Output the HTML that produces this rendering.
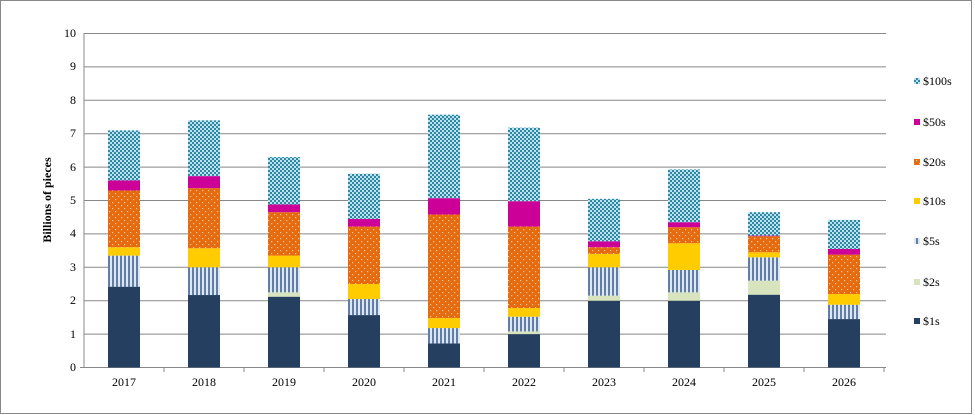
<!DOCTYPE html>
<html><head><style>body{margin:0;background:#fff}svg{display:block}text{font-family:"Liberation Serif",serif;font-size:12px;fill:#000}</style></head><body>
<svg width="975" height="415" viewBox="0 0 975 415">
<defs>
<pattern id="p100" width="4" height="4" patternUnits="userSpaceOnUse"><rect width="4" height="4" fill="#2a8aa6"/><rect width="2" height="2" fill="#bfe0ea"/><rect x="2" y="2" width="2" height="2" fill="#bfe0ea"/></pattern>
<pattern id="p20" width="6" height="6" patternUnits="userSpaceOnUse"><rect width="6" height="6" fill="#e56b0e"/><rect x="1" y="1" width="1.2" height="1.2" fill="#f7c9a3"/><rect x="4" y="4" width="1.2" height="1.2" fill="#f7c9a3"/></pattern>
<pattern id="p5" width="4" height="4" patternUnits="userSpaceOnUse"><rect width="4" height="4" fill="#dfe6ef"/><rect width="2" height="4" fill="#5d7fa8"/></pattern>
</defs>
<rect x="0.5" y="0.5" width="971" height="413" fill="#fff" stroke="#888"/>
<g stroke="#888" stroke-width="1">
<line x1="84" y1="33.5" x2="886" y2="33.5"/><line x1="84" y1="66.9" x2="886" y2="66.9"/><line x1="84" y1="100.3" x2="886" y2="100.3"/><line x1="84" y1="133.7" x2="886" y2="133.7"/><line x1="84" y1="167.1" x2="886" y2="167.1"/><line x1="84" y1="200.5" x2="886" y2="200.5"/><line x1="84" y1="233.9" x2="886" y2="233.9"/><line x1="84" y1="267.3" x2="886" y2="267.3"/><line x1="84" y1="300.7" x2="886" y2="300.7"/><line x1="84" y1="334.1" x2="886" y2="334.1"/>
<line x1="84" y1="33" x2="84" y2="367.5"/><line x1="80" y1="367.5" x2="886" y2="367.5"/>
</g>
<g id="bars"></g>
<g text-anchor="end">
<text x="76" y="371">0</text><text x="76" y="338">1</text><text x="76" y="304">2</text><text x="76" y="271">3</text><text x="76" y="237">4</text><text x="76" y="204">5</text><text x="76" y="171">6</text><text x="76" y="137">7</text><text x="76" y="104">8</text><text x="76" y="70">9</text><text x="76" y="37">10</text>
</g>
<text transform="translate(51,200) rotate(-90)" text-anchor="middle" style="font-weight:bold">Billions of pieces</text>
<g text-anchor="middle" id="xl"></g>
<g style="font-size:13px">
<rect x="914" y="78" width="6" height="6" fill="url(#p100)"/><text x="923" y="85">$100s</text>
<rect x="914" y="119" width="6" height="6" fill="#cc0099"/><text x="923" y="126">$50s</text>
<rect x="914" y="159" width="6" height="6" fill="url(#p20)"/><text x="923" y="166">$20s</text>
<rect x="914" y="198" width="6" height="6" fill="#ffcc00"/><text x="923" y="205">$10s</text>
<rect x="914" y="238" width="6" height="6" fill="url(#p5)"/><text x="923" y="245">$5s</text>
<rect x="914" y="279" width="6" height="6" fill="#d7e4bd"/><text x="923" y="286">$2s</text>
<rect x="914" y="318" width="6" height="6" fill="#243f60"/><text x="923" y="325">$1s</text>
</g>
</svg>
<script>
var d=[[2017,2.42,2.42,3.35,3.6,5.3,5.6,7.1],[2018,2.17,2.17,3.0,3.57,5.37,5.73,7.4],[2019,2.12,2.25,3.0,3.35,4.65,4.88,6.3],[2020,1.57,1.57,2.05,2.5,4.22,4.45,5.8],[2021,0.72,0.72,1.18,1.48,4.58,5.07,7.57],[2022,1.0,1.08,1.52,1.78,4.22,4.98,7.18],[2023,2.0,2.15,3.0,3.4,3.6,3.78,5.05],[2024,2.0,2.25,2.92,3.72,4.2,4.35,5.93],[2025,2.18,2.6,3.3,3.45,3.93,3.95,4.65],[2026,1.45,1.45,1.88,2.2,3.38,3.55,4.42]];
var f=["#243f60","#d7e4bd","url(#p5)","#ffcc00","url(#p20)","#cc0099","url(#p100)"];
var ns="http://www.w3.org/2000/svg",g=document.getElementById("bars"),xl=document.getElementById("xl");
function Y(v){return 367.5-v*33.4}
d.forEach(function(r,i){var cx=124+80*i,prev=0;
for(var k=1;k<8;k++){var v=r[k];if(v>prev){var e=document.createElementNS(ns,"rect");e.setAttribute("x",cx-16);e.setAttribute("width",32);e.setAttribute("y",Y(v));e.setAttribute("height",Y(prev)-Y(v));e.setAttribute("fill",f[k-1]);g.appendChild(e);}prev=v;}
var t=document.createElementNS(ns,"text");t.setAttribute("x",cx);t.setAttribute("y",386);t.textContent=r[0];xl.appendChild(t);
var l=document.createElementNS(ns,"line");l.setAttribute("x1",cx+40);l.setAttribute("x2",cx+40);l.setAttribute("y1",367);l.setAttribute("y2",372);l.setAttribute("stroke","#888");g.appendChild(l);});
</script>
</body></html>
